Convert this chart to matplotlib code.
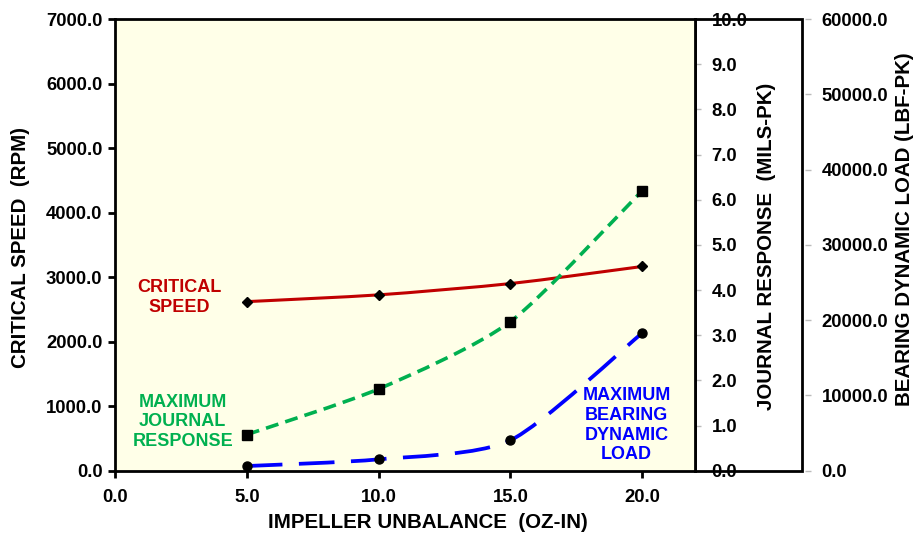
import numpy as np
import matplotlib
matplotlib.use("Agg")
import matplotlib.pyplot as plt
from matplotlib.path import Path
from matplotlib.patches import PathPatch, Rectangle
from matplotlib.ticker import MultipleLocator, FormatStrFormatter

plt.rcParams['font.family'] = ['Liberation Sans', 'DejaVu Sans']
plt.rcParams['font.weight'] = 'bold'

# Impeller unbalance (oz-in)
unbalance = [5.0, 10.0, 15.0, 20.0]
# Critical speed (rpm) - left axis
critical_speed = [2620, 2725, 2900, 3165]
# Maximum journal response (mils pk) - first right axis
journal_response = [0.80, 1.81, 3.30, 6.20]
# Maximum bearing dynamic load (lbf pk) - second right axis
bearing_load = [620, 1510, 4040, 18300]

RED = '#C00000'
GREEN = '#00B050'
BLUE = '#0000FF'
BG = '#FFFFE8'
TICK_FS = 13.3
LABEL_FS = 14.8
CAPTION_FS = 13


def smooth_path(ax, xs, ys, tension=0.12):
    """Bezier path through the points (spreadsheet-style smoothed line)."""
    pts = ax.transData.transform(np.column_stack([xs, ys]))
    n = len(pts)
    verts = [pts[0]]
    codes = [Path.MOVETO]
    for i in range(n - 1):
        p0 = pts[i - 1] if i > 0 else pts[i]
        p1 = pts[i]
        p2 = pts[i + 1]
        p3 = pts[i + 2] if i + 2 < n else pts[i + 1]
        c1 = p1 + (p2 - p0) * tension
        c2 = p2 - (p3 - p1) * tension
        verts += [c1, c2, p2]
        codes += [Path.CURVE4] * 3
    inv = ax.transData.inverted()
    return Path(inv.transform(np.array(verts)), codes)


W, H = 915, 536
fig = plt.figure(figsize=(W / 100, H / 100), dpi=100)
fig.patch.set_facecolor('white')

x0, x1, y0, y1 = 115, 695, 19, 470.7
ax = fig.add_axes([x0 / W, 1 - y1 / H, (x1 - x0) / W, (y1 - y0) / H])
ax.set_facecolor(BG)
ax.set_xlim(0, 22)
ax.set_ylim(0, 7000)
ax.xaxis.set_major_locator(MultipleLocator(5))
ax.yaxis.set_major_locator(MultipleLocator(1000))
ax.xaxis.set_major_formatter(FormatStrFormatter('%.1f'))
ax.yaxis.set_major_formatter(FormatStrFormatter('%.1f'))
for side in ['left', 'bottom', 'top']:
    ax.spines[side].set_linewidth(2.0)
ax.spines['right'].set_visible(False)
ax.tick_params(axis='both', which='major', direction='out', length=5, width=2,
               labelsize=TICK_FS, pad=4)
ax.tick_params(axis='x', pad=8)
for lab in ax.get_xticklabels() + ax.get_yticklabels():
    lab.set_fontweight('bold')

ax2 = ax.twinx()
ax2.set_ylim(0, 10)
ax2.yaxis.set_major_locator(MultipleLocator(1))
ax2.yaxis.set_major_formatter(FormatStrFormatter('%.1f'))
for side in ['left', 'top', 'bottom']:
    ax2.spines[side].set_visible(False)
ax2.spines['right'].set_linewidth(2.0)
ax2.tick_params(axis='y', direction='out', length=4, width=1, color='#BBBBBB',
                labelsize=TICK_FS, pad=8)

ax3 = ax.twinx()
ax3.set_ylim(0, 60000)
ax3.yaxis.set_major_locator(MultipleLocator(10000))
ax3.yaxis.set_major_formatter(FormatStrFormatter('%.1f'))
ax3.spines['right'].set_position(('axes', (805 - x0) / (x1 - x0)))
for side in ['left', 'top', 'bottom', 'right']:
    ax3.spines[side].set_visible(False)
ax3.tick_params(axis='y', direction='out', length=4, width=1, color='#BBBBBB',
                labelsize=TICK_FS, pad=8)
for a in (ax2, ax3):
    for lab in a.get_yticklabels():
        lab.set_fontweight('bold')

# the main axes sits on top so the curves draw over its background
ax2.set_zorder(0)
ax3.set_zorder(0)
ax.set_zorder(2)

fig.canvas.draw()


def to_ax(a_src, ys):
    """Map values of a secondary scale onto the speed axes."""
    disp = a_src.transData.transform(np.column_stack([unbalance, ys]))
    return ax.transData.inverted().transform(disp)[:, 1]


jr_y = to_ax(ax2, journal_response)
bl_y = to_ax(ax3, bearing_load)

ax.add_patch(PathPatch(smooth_path(ax, unbalance, critical_speed), fill=False,
                       edgecolor=RED, lw=2.2, zorder=3))
ax.plot(unbalance, critical_speed, ls='none', marker='D', ms=5.5, color='black', zorder=4)

ax.add_patch(PathPatch(smooth_path(ax, unbalance, jr_y), fill=False, edgecolor=GREEN,
                       lw=2.6, zorder=3, linestyle=(0, (3.6, 2.0))))
ax.plot(unbalance, jr_y, ls='none', marker='s', ms=7, color='black', zorder=4)

ax.add_patch(PathPatch(smooth_path(ax, unbalance, bl_y), fill=False, edgecolor=BLUE,
                       lw=2.7, zorder=3, linestyle=(0, (9.5, 4.4))))
ax.plot(unbalance, bl_y, ls='none', marker='o', ms=6.5, color='black', zorder=4)

# series captions
ax.text(2.45, 2680, 'CRITICAL\nSPEED', color=RED, fontsize=CAPTION_FS, fontweight='bold',
        ha='center', va='center', linespacing=1.2)
ax.text(2.57, 760, 'MAXIMUM\nJOURNAL\nRESPONSE', color=GREEN, fontsize=CAPTION_FS,
        fontweight='bold', ha='center', va='center', linespacing=1.2)
ax.text(19.4, 705, 'MAXIMUM\nBEARING\nDYNAMIC\nLOAD', color=BLUE, fontsize=CAPTION_FS,
        fontweight='bold', ha='center', va='center', linespacing=1.2)

# axis titles
fig.text(428 / W, 1 - 522 / H, 'IMPELLER UNBALANCE  (OZ-IN)', fontsize=LABEL_FS,
         fontweight='bold', ha='center', va='center')
fig.text(21 / W, 1 - 248 / H, 'CRITICAL SPEED  (RPM)', rotation=90, fontsize=LABEL_FS,
         fontweight='bold', ha='center', va='center')
fig.text(767 / W, 1 - 246 / H, 'JOURNAL RESPONSE  (MILS-PK)', rotation=90,
         fontsize=LABEL_FS, fontweight='bold', ha='center', va='center')
fig.text(905 / W, 1 - 229 / H, 'BEARING DYNAMIC LOAD (LBF-PK)', rotation=90,
         fontsize=LABEL_FS, fontweight='bold', ha='center', va='center')

# box framing the journal response scale
fig.add_artist(Rectangle((x1 / W, 1 - y1 / H), (802 - x1) / W, (y1 - y0) / H,
                         transform=fig.transFigure, fill=False, edgecolor='black',
                         lw=2.0, zorder=10))

fig.savefig('out.png', dpi=100, facecolor='white')
